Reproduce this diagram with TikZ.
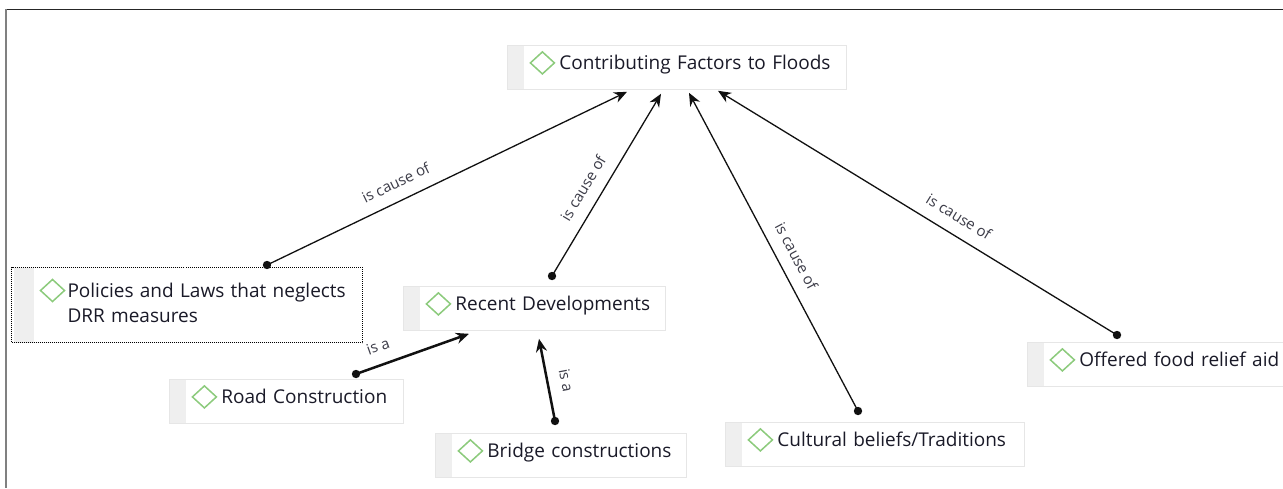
\documentclass[tikz,border=0pt]{standalone}
\usepackage{fontspec}
\setmainfont{Open Sans}
\usetikzlibrary{arrows.meta,calc}
\definecolor{ink}{HTML}{1A1A28}
\definecolor{leaf}{HTML}{8CCB7C}
\definecolor{strip}{HTML}{EFEFEF}
\definecolor{rim}{HTML}{E6E6E6}
\definecolor{edgeink}{HTML}{111111}
\newcommand\conceptfont{\fontsize{19}{25}\selectfont}
\newcommand\linkfont{\fontsize{15}{17}\selectfont}
\tikzset{
  concept/.style={draw=rim, line width=0.8pt, fill=white, anchor=north west,
    inner sep=0pt, text width=#1, align=left, text height=24pt, text depth=20pt,
    text=ink, font=\conceptfont,
    path picture={
      \fill[strip] (path picture bounding box.north west)
        rectangle ([xshift=17pt]path picture bounding box.south west);
      \draw[leaf, line width=1.5pt]
        ([xshift=23pt,yshift=-17.5pt]path picture bounding box.north west)
        -- ++(12pt,11pt) -- ++(12pt,-11pt) -- ++(-12pt,-11pt) -- cycle;}},
  picked/.style={draw=black, densely dotted, line width=1pt, fill=white, anchor=north west,
    inner sep=0pt, text width=#1, align=left, text height=30pt, text depth=45pt,
    text=ink, font=\conceptfont,
    path picture={
      \fill[strip] ([xshift=2pt]path picture bounding box.north west)
        rectangle ([xshift=22pt]path picture bounding box.south west);
      \draw[leaf, line width=1.5pt, solid]
        ([xshift=29pt,yshift=-23pt]path picture bounding box.north west)
        -- ++(12pt,11pt) -- ++(12pt,-11pt) -- ++(-12pt,-11pt) -- cycle;}},
  link/.style={draw=edgeink, line width=1.3pt, -{Stealth[length=13pt,width=11pt]}},
  isa/.style={link, line width=2.5pt},
  lbl/.style={sloped, above=12pt, inner sep=0pt, font=\linkfont, text=ink!85},
  dot/.style={fill=edgeink}
}
\begin{document}
\begin{tikzpicture}[x=1pt,y=-1pt]
\useasboundingbox (0,0) rectangle (1283,488);
\fill[white] (0,0) rectangle (1283,488);
% window frame
\draw[line width=1.5pt, black!85] (5,9.5) -- (1283,9.5);
\draw[line width=2pt, black!50] (6,9) -- (6,488);

% concepts
\node[concept=339pt] (top) at (507,45) {\hspace*{52pt}Contributing Factors to Floods};
\node[picked=351pt] (pol) at (11,267) {\hspace*{56pt}Policies and Laws that neglects\\\hspace*{56pt}DRR measures};
\node[concept=262pt] (rec) at (403,286) {\hspace*{52pt}Recent Developments};
\node[concept=234pt] (road) at (169,379) {\hspace*{52pt}Road Construction};
\node[concept=251pt] (bri) at (435,433) {\hspace*{52pt}Bridge constructions};
\node[concept=299pt] (cul) at (725,422) {\hspace*{52pt}Cultural beliefs/Traditions};
\node[concept=275pt] (off) at (1027,342) {\hspace*{52pt}Offered food relief aid};

% link end points
\coordinate (t1) at ($(top.south west)+(120,2)$);
\coordinate (t2) at ($(top.south west)+(154,4)$);
\coordinate (t3) at ($(top.south west)+(182,3)$);
\coordinate (t4) at ($(top.south west)+(211,1)$);
\coordinate (r1) at ($(rec.south west)+(66,3)$);
\coordinate (r2) at ($(rec.south west)+(136,8)$);
\coordinate (d1) at ($(pol.north west)+(256,-2)$);
\coordinate (d2) at ($(rec.north west)+(149,-10)$);
\coordinate (d3) at ($(cul.north west)+(133,-11)$);
\coordinate (d4) at ($(off.north west)+(90,-7)$);
\coordinate (d5) at ($(road.north west)+(187,-5)$);
\coordinate (d6) at ($(bri.north west)+(120,-12)$);

% links
\draw[link] (d1) -- node[lbl, pos=0.38] {is cause of} (t1);
\draw[link] (d2) -- node[lbl, pos=0.43] {is cause of} (t2);
\draw[link] (d3) -- node[lbl, pos=0.46] {is cause of} (t3);
\draw[link] (d4) -- node[lbl, pos=0.42] {is cause of} (t4);
\draw[isa] (d5) -- node[lbl, pos=0.25] {is a} (r1);
\draw[isa] (d6) -- node[lbl, pos=0.45] {is a} (r2);
\foreach \p in {d1,d2,d3,d4,d5,d6} \fill[dot] (\p) circle (4.2pt);
\end{tikzpicture}
\end{document}
